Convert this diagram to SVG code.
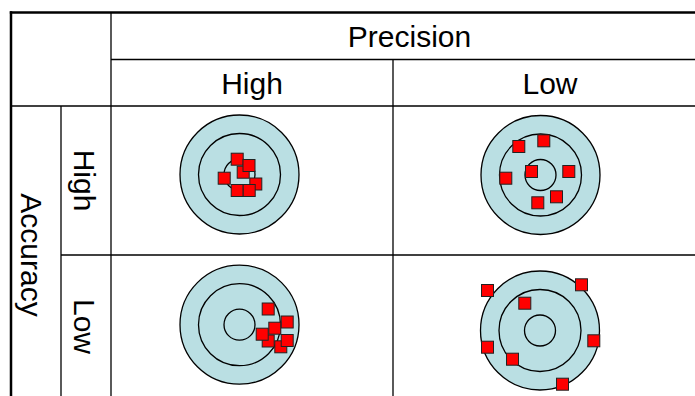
<svg xmlns="http://www.w3.org/2000/svg" width="695" height="396" viewBox="0 0 695 396">
<style>
.t{font-family:"Liberation Sans",Arial,sans-serif;font-size:30px;fill:#000;text-anchor:middle}
.ln{stroke:#000;stroke-width:1.3;fill:none}
.bd{stroke:#000;stroke-width:2.5;fill:none}
.ring{fill:#BADFE3;stroke:#000;stroke-width:1.3}
.rng{fill:none;stroke:#000;stroke-width:1.3}
.sq{fill:#FF0000;stroke:#222;stroke-width:1}
</style>
<defs>
<g id="target">
<circle class="ring" cx="0" cy="0" r="59.5"/>
<circle class="rng" cx="0" cy="0" r="41"/>
<circle class="rng" cx="0" cy="0" r="15.5"/>
</g>
</defs>
<rect width="695" height="396" fill="#fff"/>
<g id="table">
<line class="ln" x1="111" y1="59.5" x2="700" y2="59.5"/>
<line class="ln" x1="11" y1="106" x2="700" y2="106"/>
<line class="ln" x1="61" y1="255" x2="700" y2="255"/>
<line class="ln" x1="61" y1="106" x2="61" y2="400"/>
<line class="ln" x1="111" y1="12" x2="111" y2="400"/>
<line class="ln" x1="393" y1="59.5" x2="393" y2="400"/>
<line class="bd" x1="9.8" y1="12.5" x2="700" y2="12.5"/>
<line class="bd" x1="11" y1="11.3" x2="11" y2="400"/>
</g>
<g id="labels">
<text class="t" x="409.5" y="47">Precision</text>
<text class="t" x="252" y="94">High</text>
<text class="t" x="550" y="94">Low</text>
<text class="t" transform="translate(74,180.5) rotate(90)">High</text>
<text class="t" transform="translate(74,326.5) rotate(90)">Low</text>
<text class="t" transform="translate(21,255) rotate(90)">Accuracy</text>
</g>
<g id="hh">
<use href="#target" x="239.5" y="174.5"/>
<rect class="sq" x="237.2" y="166.2" width="12" height="12"/>
<rect class="sq" x="231.2" y="153.2" width="12" height="12"/>
<rect class="sq" x="243" y="159.5" width="12" height="12"/>
<rect class="sq" x="218.2" y="172.2" width="12" height="12"/>
<rect class="sq" x="249.8" y="178" width="12" height="12"/>
<rect class="sq" x="231.2" y="184.5" width="12" height="12"/>
<rect class="sq" x="243.2" y="184.5" width="12" height="12"/>
</g>
<g id="hl">
<use href="#target" x="540.5" y="175"/>
<rect class="sq" x="512.8" y="140.5" width="12" height="12"/>
<rect class="sq" x="537.8" y="134.8" width="12" height="12"/>
<rect class="sq" x="525.5" y="165.5" width="12" height="12"/>
<rect class="sq" x="562.8" y="165.5" width="12" height="12"/>
<rect class="sq" x="499.8" y="172.2" width="12" height="12"/>
<rect class="sq" x="550.5" y="190.8" width="12" height="12"/>
<rect class="sq" x="531.8" y="196.8" width="12" height="12"/>
</g>
<g id="lh">
<use href="#target" x="239.5" y="324.7"/>
<rect class="sq" x="262.2" y="303" width="12" height="12"/>
<rect class="sq" x="281.2" y="316" width="12" height="12"/>
<rect class="sq" x="262.2" y="335" width="12" height="12"/>
<rect class="sq" x="256.2" y="328.2" width="12" height="12"/>
<rect class="sq" x="268.8" y="322.2" width="12" height="12"/>
<rect class="sq" x="274.8" y="340.8" width="12" height="12"/>
<rect class="sq" x="281.2" y="334.5" width="12" height="12"/>
</g>
<g id="ll">
<use href="#target" x="540" y="330.5"/>
<rect class="sq" x="481.5" y="284.5" width="12" height="12"/>
<rect class="sq" x="575.5" y="278.8" width="12" height="12"/>
<rect class="sq" x="518.8" y="297.2" width="12" height="12"/>
<rect class="sq" x="587.8" y="334.8" width="12" height="12"/>
<rect class="sq" x="481.5" y="341.2" width="12" height="12"/>
<rect class="sq" x="506.5" y="353.2" width="12" height="12"/>
<rect class="sq" x="556.5" y="378.2" width="12" height="12"/>
</g>
</svg>
